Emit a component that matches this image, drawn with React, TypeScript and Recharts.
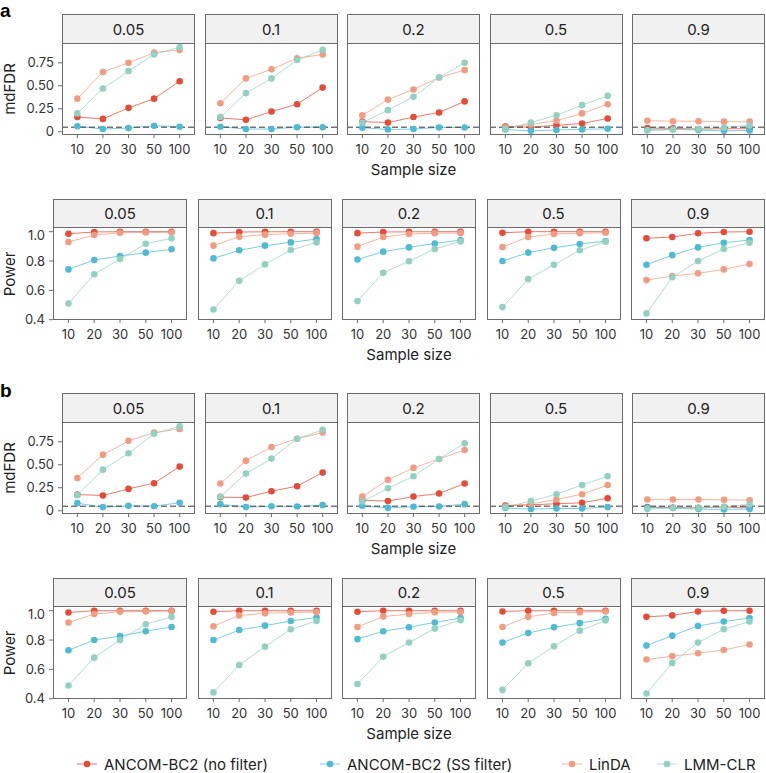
import { LineChart, Line, XAxis, YAxis, ReferenceLine } from "recharts";

const SAMPLE_SIZES = ["10", "20", "30", "50", "100"];
const FACETS = ["0.05", "0.1", "0.2", "0.5", "0.9"];
const METHODS = ["ANCOM-BC2 (no filter)", "ANCOM-BC2 (SS filter)", "LinDA", "LMM-CLR"];
const COLORS = ["#E64B35", "#4DBBD5", "#F39B7F", "#91D1C2"];

const FDR_TICKS = [0, 0.25, 0.5, 0.75];
const FDR_TICK_LABELS = ["0", "0.25", "0.50", "0.75"];
const POWER_TICKS = [0.4, 0.6, 0.8, 1.0];
const POWER_TICK_LABELS = ["0.4", "0.6", "0.8", "1.0"];
const FDR_LEVEL = 0.05;

// one row per facet, one value per sample size
const A_FDR_NOFILTER = [
  [0.16, 0.14, 0.26, 0.36, 0.55],
  [0.15, 0.13, 0.22, 0.3, 0.48],
  [0.11, 0.1, 0.16, 0.21, 0.33],
  [0.058, 0.05, 0.07, 0.09, 0.145],
  [0.04, 0.037, 0.03, 0.033, 0.033],
];
const A_FDR_SS = [
  [0.06, 0.03, 0.04, 0.065, 0.055],
  [0.055, 0.03, 0.03, 0.05, 0.05],
  [0.045, 0.025, 0.03, 0.047, 0.047],
  [0.025, 0.01, 0.02, 0.025, 0.033],
  [0.02, 0.025, 0.018, 0.01, 0.015],
];
const A_FDR_LINDA = [
  [0.36, 0.65, 0.75, 0.86, 0.89],
  [0.31, 0.58, 0.68, 0.8, 0.84],
  [0.18, 0.35, 0.46, 0.59, 0.67],
  [0.047, 0.08, 0.12, 0.2, 0.3],
  [0.12, 0.115, 0.115, 0.11, 0.11],
];
const A_FDR_LMM = [
  [0.2, 0.47, 0.66, 0.84, 0.92],
  [0.16, 0.42, 0.58, 0.78, 0.89],
  [0.1, 0.235, 0.38, 0.59, 0.75],
  [0.03, 0.1, 0.18, 0.29, 0.39],
  [0.015, 0.025, 0.03, 0.047, 0.07],
];
const A_POW_NOFILTER = [
  [0.986, 0.998, 1.0, 1.0, 1.0],
  [0.99, 0.998, 0.999, 1.0, 1.0],
  [0.99, 0.998, 0.999, 1.0, 1.0],
  [0.993, 1.0, 1.0, 1.0, 1.0],
  [0.955, 0.964, 0.989, 0.998, 1.0],
];
const A_POW_SS = [
  [0.743, 0.807, 0.834, 0.857, 0.88],
  [0.818, 0.873, 0.905, 0.927, 0.95],
  [0.81, 0.864, 0.893, 0.92, 0.943],
  [0.8, 0.857, 0.89, 0.916, 0.936],
  [0.775, 0.84, 0.893, 0.925, 0.943],
];
const A_POW_LINDA = [
  [0.93, 0.977, 0.993, 0.995, 0.995],
  [0.905, 0.966, 0.98, 0.986, 0.99],
  [0.898, 0.964, 0.984, 0.99, 0.99],
  [0.895, 0.964, 0.984, 0.99, 0.993],
  [0.67, 0.698, 0.716, 0.743, 0.78],
];
const A_POW_LMM = [
  [0.51, 0.71, 0.814, 0.918, 0.955],
  [0.47, 0.666, 0.777, 0.875, 0.927],
  [0.527, 0.72, 0.798, 0.882, 0.934],
  [0.486, 0.677, 0.775, 0.873, 0.932],
  [0.443, 0.689, 0.8, 0.882, 0.925],
];
const B_FDR_NOFILTER = [
  [0.177, 0.166, 0.238, 0.3, 0.48],
  [0.148, 0.144, 0.213, 0.267, 0.415],
  [0.115, 0.105, 0.155, 0.188, 0.296],
  [0.058, 0.065, 0.076, 0.087, 0.137],
  [0.04, 0.036, 0.032, 0.04, 0.032],
];
const B_FDR_SS = [
  [0.083, 0.04, 0.054, 0.05, 0.087],
  [0.072, 0.04, 0.05, 0.047, 0.061],
  [0.054, 0.032, 0.043, 0.047, 0.072],
  [0.03, 0.018, 0.025, 0.025, 0.04],
  [0.036, 0.03, 0.018, 0.015, 0.018],
];
const B_FDR_LINDA = [
  [0.357, 0.61, 0.76, 0.85, 0.89],
  [0.296, 0.545, 0.693, 0.783, 0.85],
  [0.155, 0.336, 0.466, 0.563, 0.66],
  [0.047, 0.076, 0.123, 0.18, 0.28],
  [0.123, 0.123, 0.123, 0.12, 0.115],
];
const B_FDR_LMM = [
  [0.17, 0.447, 0.625, 0.837, 0.917],
  [0.155, 0.404, 0.567, 0.783, 0.88],
  [0.1, 0.245, 0.375, 0.563, 0.733],
  [0.04, 0.105, 0.18, 0.28, 0.375],
  [0.018, 0.032, 0.032, 0.043, 0.07],
];
const B_POW_NOFILTER = [
  [0.988, 1.0, 1.0, 1.0, 1.0],
  [0.993, 1.0, 1.0, 1.0, 1.0],
  [0.993, 1.0, 1.0, 1.0, 1.0],
  [0.995, 1.0, 1.0, 1.0, 1.0],
  [0.958, 0.968, 0.995, 1.0, 1.0],
];
const B_POW_SS = [
  [0.73, 0.8, 0.827, 0.86, 0.889],
  [0.8, 0.868, 0.898, 0.93, 0.954],
  [0.806, 0.86, 0.887, 0.92, 0.95],
  [0.783, 0.848, 0.887, 0.915, 0.945],
  [0.762, 0.83, 0.896, 0.926, 0.95],
];
const B_POW_LINDA = [
  [0.92, 0.977, 0.993, 0.995, 0.998],
  [0.894, 0.968, 0.982, 0.988, 0.99],
  [0.889, 0.96, 0.977, 0.99, 0.99],
  [0.889, 0.958, 0.984, 0.99, 0.995],
  [0.667, 0.69, 0.71, 0.732, 0.77],
];
const B_POW_LMM = [
  [0.49, 0.68, 0.8, 0.908, 0.958],
  [0.443, 0.63, 0.755, 0.873, 0.93],
  [0.5, 0.686, 0.783, 0.878, 0.935],
  [0.46, 0.642, 0.758, 0.864, 0.933],
  [0.436, 0.644, 0.783, 0.873, 0.926],
];

const FONT = "Inter, 'Open Sans', sans-serif";
const TEXT = "#333";
const BORDER = "#6b6b6b";

type Row = {
  stripTop: number;
  plotTop: number;
  plotBottom: number;
  x0: number;
  step: number;
  w: number;
  kind: "fdr" | "power";
  series: number[][][];
};

const ROWS: Row[] = [
  { stripTop: 14, plotTop: 43, plotBottom: 135, x0: 62, step: 142.5, w: 133, kind: "fdr",
    series: [A_FDR_NOFILTER, A_FDR_SS, A_FDR_LINDA, A_FDR_LMM] },
  { stripTop: 199, plotTop: 227, plotBottom: 320, x0: 53, step: 144.5, w: 134, kind: "power",
    series: [A_POW_NOFILTER, A_POW_SS, A_POW_LINDA, A_POW_LMM] },
  { stripTop: 393, plotTop: 422, plotBottom: 514, x0: 62, step: 142.5, w: 133, kind: "fdr",
    series: [B_FDR_NOFILTER, B_FDR_SS, B_FDR_LINDA, B_FDR_LMM] },
  { stripTop: 578, plotTop: 606, plotBottom: 699, x0: 53, step: 144.5, w: 134, kind: "power",
    series: [B_POW_NOFILTER, B_POW_SS, B_POW_LINDA, B_POW_LMM] },
];

const X_AXIS_H = 30;

function Panel({ row, f }: { row: Row; f: number }) {
  const showY = f === 0;
  const yW = showY ? row.x0 : 0;
  const x = row.x0 + f * row.step;
  const plotH = row.plotBottom - row.plotTop;
  const isFdr = row.kind === "fdr";
  const domain = isFdr ? [-0.035, 0.965] : [0.398, 1.032];
  const ticks = isFdr ? FDR_TICKS : POWER_TICKS;
  const tickLabels = isFdr ? FDR_TICK_LABELS : POWER_TICK_LABELS;

  const data = SAMPLE_SIZES.map((s, i) => ({
    i,
    m0: row.series[0][f][i],
    m1: row.series[1][f][i],
    m2: row.series[2][f][i],
    m3: row.series[3][f][i],
  }));

  return (
    <>
      <div
        style={{
          position: "absolute",
          left: x,
          top: row.stripTop,
          width: row.w,
          height: row.plotTop - row.stripTop + 1,
          boxSizing: "border-box",
          border: `1px solid ${BORDER}`,
          background: "#f1f1f1",
          display: "flex",
          alignItems: "center",
          justifyContent: "center",
          fontSize: 15,
          color: "#222",
        }}
      >
        {FACETS[f]}
      </div>
      <div style={{ position: "absolute", left: x - yW, top: row.plotTop }}>
        <LineChart
          width={row.w + yW}
          height={plotH + X_AXIS_H}
          data={data}
          margin={{ top: 0, right: 0, bottom: 0, left: 0 }}
        >
          <XAxis
            type="number"
            dataKey="i"
            domain={[-0.6, 4.6]}
            ticks={[0, 1, 2, 3, 4]}
            tickFormatter={(v: number) => SAMPLE_SIZES[v]}
            allowDataOverflow
            interval={0}
            height={X_AXIS_H}
            axisLine={false}
            tickLine={{ stroke: BORDER }}
            tickSize={3}
            tickMargin={7}
            tick={{ fontSize: 13, fill: TEXT }}
          />
          <YAxis
            type="number"
            domain={domain}
            ticks={ticks}
            tickFormatter={(v: number) => tickLabels[ticks.indexOf(v)]}
            allowDataOverflow
            hide={!showY}
            width={yW}
            axisLine={false}
            tickLine={{ stroke: BORDER }}
            tickSize={4}
            tickMargin={4}
            tick={{ fontSize: 13, fill: TEXT }}
          />
          {METHODS.map((m, k) => (
            <Line
              key={m}
              type="linear"
              dataKey={`m${k}`}
              name={m}
              stroke={COLORS[k]}
              strokeWidth={1}
              strokeOpacity={0.75}
              dot={{ r: 3.3, fill: COLORS[k], stroke: COLORS[k], strokeWidth: 0 }}
              activeDot={false}
              isAnimationActive={false}
            />
          ))}
          {isFdr && (
            <ReferenceLine y={FDR_LEVEL} stroke="#333" strokeWidth={1} strokeDasharray="6 3" />
          )}
        </LineChart>
      </div>
      <div
        style={{
          position: "absolute",
          left: x,
          top: row.plotTop,
          width: row.w,
          height: plotH,
          boxSizing: "border-box",
          border: `1px solid ${BORDER}`,
          pointerEvents: "none",
        }}
      />
    </>
  );
}

function RowTitles({ row }: { row: Row }) {
  const cy = (row.plotTop + row.plotBottom) / 2;
  const cx = (row.x0 + row.x0 + 4 * row.step + row.w) / 2;
  return (
    <>
      <div
        style={{
          position: "absolute",
          left: 10 - 50,
          top: cy - 10,
          width: 100,
          height: 20,
          lineHeight: "20px",
          textAlign: "center",
          transform: "rotate(-90deg)",
          fontSize: 15,
          color: "#222",
        }}
      >
        {row.kind === "fdr" ? "mdFDR" : "Power"}
      </div>
      <div
        style={{
          position: "absolute",
          left: cx - 60,
          top: row.plotBottom + 25,
          width: 120,
          height: 20,
          lineHeight: "20px",
          textAlign: "center",
          fontSize: 15,
          color: "#222",
        }}
      >
        Sample size
      </div>
    </>
  );
}

const LEGEND_X = [77, 320, 562, 657];

function Legend() {
  return (
    <>
      {METHODS.map((m, k) => (
        <div
          key={m}
          style={{
            position: "absolute",
            left: LEGEND_X[k],
            top: 754,
            height: 20,
            display: "flex",
            alignItems: "center",
            fontSize: 15,
            color: "#222",
            whiteSpace: "nowrap",
          }}
        >
          <svg width={20} height={10} style={{ marginRight: 7 }}>
            <line x1={0} y1={5} x2={20} y2={5} stroke={COLORS[k]} strokeOpacity={0.75} />
            <circle cx={10} cy={5} r={3.3} fill={COLORS[k]} />
          </svg>
          {m}
        </div>
      ))}
    </>
  );
}

const LETTER_STYLE = {
  position: "absolute" as const,
  left: 0,
  fontSize: 19,
  fontWeight: 700,
  lineHeight: "22px",
  fontFamily: "'Liberation Sans', Arial, sans-serif",
};

export default function App() {
  return (
    <div
      style={{
        position: "absolute",
        left: 0,
        top: 0,
        width: 766,
        height: 773,
        background: "#fff",
        fontFamily: FONT,
        overflow: "hidden",
      }}
    >
      <div style={{ ...LETTER_STYLE, top: 0 }}>a</div>
      <div style={{ ...LETTER_STYLE, top: 380 }}>b</div>
      {ROWS.map((row, r) => (
        <div key={r}>
          {FACETS.map((_, f) => (
            <Panel key={f} row={row} f={f} />
          ))}
          <RowTitles row={row} />
        </div>
      ))}
      <Legend />
    </div>
  );
}
